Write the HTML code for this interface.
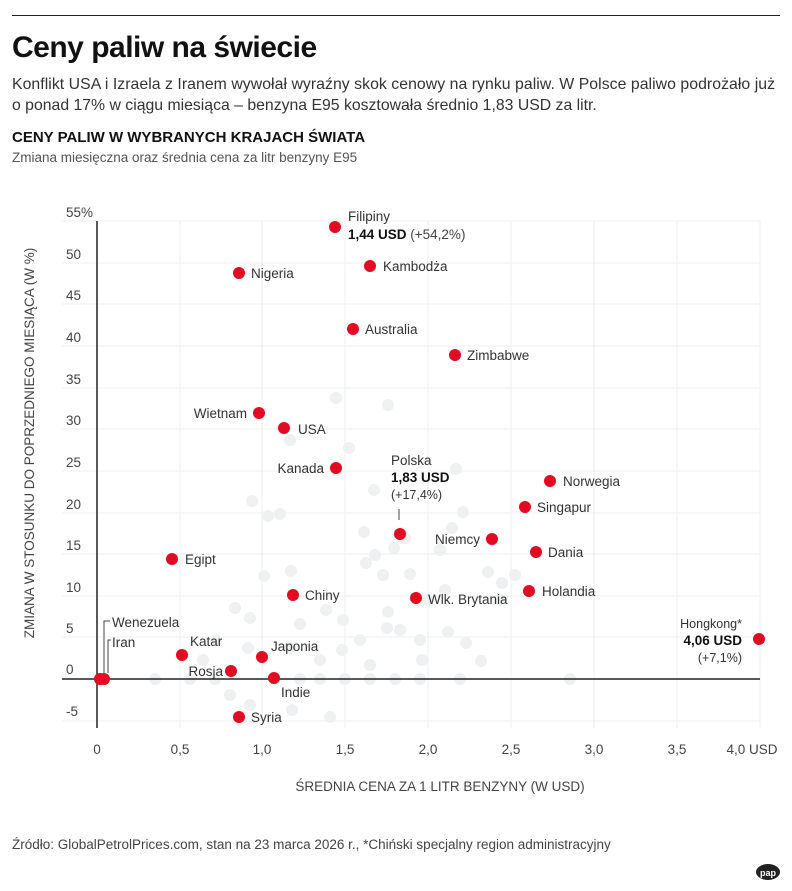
<!DOCTYPE html>
<html><head><meta charset="utf-8"><style>
body{margin:0;background:#fff;font-family:"Liberation Sans",sans-serif;}
svg{display:block}
</style></head><body>
<svg width="792" height="891" viewBox="0 0 792 891" xmlns="http://www.w3.org/2000/svg" font-family="Liberation Sans, sans-serif">
<line x1="12" y1="15.5" x2="780" y2="15.5" stroke="#222" stroke-width="1"/>
<text x="12" y="57" font-size="30" font-weight="bold" fill="#111" letter-spacing="-0.5">Ceny paliw na świecie</text>
<text x="12" y="89" font-size="15.8" fill="#333" textLength="763">Konflikt USA i Izraela z Iranem wywołał wyraźny skok cenowy na rynku paliw. W Polsce paliwo podrożało już</text>
<text x="12" y="110" font-size="15.8" fill="#333">o ponad 17% w ciągu miesiąca – benzyna E95 kosztowała średnio 1,83 USD za litr.</text>
<text x="12" y="142" font-size="15" font-weight="bold" fill="#111">CENY PALIW W WYBRANYCH KRAJACH ŚWIATA</text>
<text x="12" y="162" font-size="13.5" fill="#555">Zmiana miesięczna oraz średnia cena za litr benzyny E95</text>
<g stroke="#edf0f2" stroke-width="1">
<line x1="62" y1="221" x2="760" y2="221"/><line x1="62" y1="263" x2="760" y2="263"/><line x1="62" y1="304" x2="760" y2="304"/><line x1="62" y1="346" x2="760" y2="346"/><line x1="62" y1="388" x2="760" y2="388"/><line x1="62" y1="429" x2="760" y2="429"/><line x1="62" y1="471" x2="760" y2="471"/><line x1="62" y1="513" x2="760" y2="513"/><line x1="62" y1="554" x2="760" y2="554"/><line x1="62" y1="596" x2="760" y2="596"/><line x1="62" y1="637" x2="760" y2="637"/><line x1="62" y1="721" x2="760" y2="721"/>
<line x1="180" y1="221" x2="180" y2="728"/><line x1="262" y1="221" x2="262" y2="728"/><line x1="345" y1="221" x2="345" y2="728"/><line x1="428" y1="221" x2="428" y2="728"/><line x1="511" y1="221" x2="511" y2="728"/><line x1="594" y1="221" x2="594" y2="728"/><line x1="677" y1="221" x2="677" y2="728"/><line x1="760" y1="221" x2="760" y2="728"/>
</g>
<g fill="#eef0f1">
<circle cx="336" cy="398" r="6"/><circle cx="388" cy="405" r="6"/><circle cx="349" cy="448" r="6"/><circle cx="290" cy="440" r="6"/><circle cx="374" cy="490" r="6"/><circle cx="456" cy="469" r="6"/><circle cx="252" cy="501" r="6"/><circle cx="268" cy="516" r="6"/><circle cx="280" cy="514" r="6"/><circle cx="364" cy="532" r="6"/><circle cx="375" cy="555" r="6"/><circle cx="394" cy="548" r="6"/><circle cx="405" cy="538" r="6"/><circle cx="366" cy="563" r="6"/><circle cx="383" cy="575" r="6"/><circle cx="410" cy="574" r="6"/><circle cx="440" cy="550" r="6"/><circle cx="452" cy="528" r="6"/><circle cx="463" cy="512" r="6"/><circle cx="445" cy="590" r="6"/><circle cx="264" cy="576" r="6"/><circle cx="291" cy="571" r="6"/><circle cx="235" cy="608" r="6"/><circle cx="250" cy="618" r="6"/><circle cx="300" cy="624" r="6"/><circle cx="326" cy="610" r="6"/><circle cx="343" cy="620" r="6"/><circle cx="388" cy="612" r="6"/><circle cx="400" cy="630" r="6"/><circle cx="387" cy="628" r="6"/><circle cx="420" cy="640" r="6"/><circle cx="448" cy="632" r="6"/><circle cx="466" cy="643" r="6"/><circle cx="488" cy="572" r="6"/><circle cx="502" cy="583" r="6"/><circle cx="481" cy="661" r="6"/><circle cx="216" cy="640" r="6"/><circle cx="203" cy="660" r="6"/><circle cx="248" cy="648" r="6"/><circle cx="290" cy="648" r="6"/><circle cx="320" cy="660" r="6"/><circle cx="342" cy="650" r="6"/><circle cx="360" cy="640" r="6"/><circle cx="370" cy="665" r="6"/><circle cx="422" cy="660" r="6"/><circle cx="155" cy="679" r="6"/><circle cx="190" cy="679" r="6"/><circle cx="215" cy="679" r="6"/><circle cx="300" cy="679" r="6"/><circle cx="320" cy="679" r="6"/><circle cx="345" cy="679" r="6"/><circle cx="370" cy="679" r="6"/><circle cx="395" cy="679" r="6"/><circle cx="420" cy="679" r="6"/><circle cx="460" cy="679" r="6"/><circle cx="570" cy="679" r="6"/><circle cx="230" cy="695" r="6"/><circle cx="250" cy="705" r="6"/><circle cx="292" cy="710" r="6"/><circle cx="330" cy="717" r="6"/><circle cx="515" cy="575" r="6"/><circle cx="500" cy="600" r="6"/><circle cx="428" cy="600" r="6"/>
</g>
<line x1="97" y1="221" x2="97" y2="728" stroke="#222" stroke-width="1.5"/>
<line x1="62" y1="679" x2="760" y2="679" stroke="#222" stroke-width="1.5"/>
<g font-size="13.5" fill="#444">
<text x="66" y="217">55%</text><text x="66" y="259">50</text><text x="66" y="300">45</text><text x="66" y="342">40</text><text x="66" y="384">35</text><text x="66" y="425">30</text><text x="66" y="467">25</text><text x="66" y="509">20</text><text x="66" y="550">15</text><text x="66" y="592">10</text><text x="66" y="633">5</text><text x="66" y="674">0</text><text x="66" y="716">-5</text>
</g>
<g font-size="13.5" fill="#444" text-anchor="middle">
<text x="97" y="754">0</text><text x="180" y="754">0,5</text><text x="262" y="754">1,0</text><text x="345" y="754">1,5</text><text x="428" y="754">2,0</text><text x="511" y="754">2,5</text><text x="594" y="754">3,0</text><text x="677" y="754">3,5</text><text x="752" y="754">4,0 USD</text>
</g>
<text x="440" y="791" font-size="13.5" fill="#444" text-anchor="middle">ŚREDNIA CENA ZA 1 LITR BENZYNY (W USD)</text>
<text transform="translate(34,443) rotate(-90)" font-size="13.5" fill="#444" text-anchor="middle">ZMIANA W STOSUNKU DO POPRZEDNIEGO MIESIĄCA (W %)</text>
<g fill="none" stroke="#444" stroke-width="1">
<polyline points="104,673 104,621 110,621"/><polyline points="108,673 108,640 111,640"/>
<line x1="399" y1="509" x2="399" y2="520"/>
</g>
<g fill="#e30b22">
<circle cx="335" cy="227" r="6"/><circle cx="239" cy="273" r="6"/><circle cx="370" cy="266" r="6"/><circle cx="353" cy="329" r="6"/><circle cx="455" cy="355" r="6"/><circle cx="259" cy="413" r="6"/><circle cx="284" cy="428" r="6"/><circle cx="336" cy="468" r="6"/><circle cx="400" cy="534" r="6"/><circle cx="550" cy="481" r="6"/><circle cx="525" cy="507" r="6"/><circle cx="492" cy="539" r="6"/><circle cx="536" cy="552" r="6"/><circle cx="172" cy="559" r="6"/><circle cx="293" cy="595" r="6"/><circle cx="416" cy="598" r="6"/><circle cx="529" cy="591" r="6"/><circle cx="759" cy="639" r="6"/><circle cx="182" cy="655" r="6"/><circle cx="262" cy="657" r="6"/><circle cx="231" cy="671" r="6"/><circle cx="274" cy="678" r="6"/><circle cx="239" cy="717" r="6"/><circle cx="100" cy="679" r="6"/><circle cx="104" cy="679" r="6"/>
</g>
<g font-size="13.5" fill="#333">
<text x="348" y="221">Filipiny</text><text x="348" y="239" font-weight="bold" fill="#111">1,44 USD <tspan font-weight="normal" fill="#444">(+54,2%)</tspan></text>
<text x="251" y="278">Nigeria</text><text x="383" y="271">Kambodża</text><text x="365" y="334">Australia</text><text x="467" y="360">Zimbabwe</text>
<text x="247" y="418" text-anchor="end">Wietnam</text><text x="298" y="434">USA</text><text x="324" y="473" text-anchor="end">Kanada</text>
<text x="391" y="465">Polska</text><text x="391" y="482" font-weight="bold" fill="#111">1,83 USD</text><text x="391" y="499" font-size="12.5">(+17,4%)</text>
<text x="563" y="486">Norwegia</text><text x="537" y="512">Singapur</text><text x="480" y="544" text-anchor="end">Niemcy</text><text x="548" y="557">Dania</text>
<text x="185" y="564">Egipt</text><text x="305" y="600">Chiny</text><text x="428" y="604">Wlk. Brytania</text><text x="542" y="596">Holandia</text>
<text x="742" y="628" text-anchor="end" font-size="12.5">Hongkong*</text><text x="742" y="645" text-anchor="end" font-weight="bold" fill="#111">4,06 USD</text><text x="742" y="662" text-anchor="end" font-size="12.5">(+7,1%)</text>
<text x="112" y="627">Wenezuela</text><text x="112" y="647">Iran</text>
<text x="190" y="646">Katar</text><text x="271" y="651">Japonia</text><text x="223" y="676" text-anchor="end">Rosja</text><text x="281" y="697">Indie</text><text x="251" y="722">Syria</text>
</g>
<text x="12" y="849" font-size="13.5" fill="#444">Źródło: GlobalPetrolPrices.com, stan na 23 marca 2026 r., *Chiński specjalny region administracyjny</text>
<ellipse cx="768" cy="872" rx="12" ry="8" fill="#222"/>
<text x="768" y="876" font-size="9" font-weight="bold" fill="#fff" text-anchor="middle">pap</text>
</svg>
</body></html>
